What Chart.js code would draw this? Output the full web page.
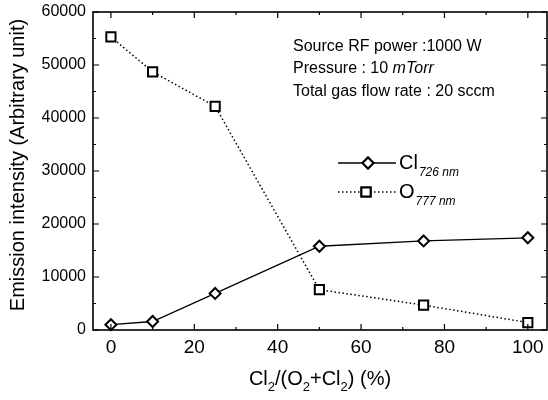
<!doctype html>
<html lang="en">
  <head>
    <meta charset="UTF-8">
    <title>Emission intensity vs Cl2 fraction</title>
    <style>
      body { margin: 0; background: #fff; }
    </style>
  </head>
  <body>
    <canvas id="myChart" width="548" height="400"></canvas>

    <script src="https://cdnjs.cloudflare.com/ajax/libs/Chart.js/4.4.1/chart.umd.min.js"></script>
    <script>
    // Data-----
    const cl2Percent = [0, 10, 25, 50, 75, 100];
    const cl726 = [1000, 1600, 6900, 15800, 16800, 17400];
    const o777 = [55300, 48700, 42200, 7600, 4700, 1400];
    const xTicks = [0, 20, 40, 60, 80, 100];
    const yTicks = [0, 10000, 20000, 30000, 40000, 50000, 60000];
    const notes = ['Source RF power :1000 W', 'Pressure : 10 ', 'Total gas flow rate : 20 sccm'];
    // Data-----

    const FONT = "'Liberation Sans', Arial, sans-serif";

    // no extra margins for overflowing tick labels, keep the plot box fixed
    const noMargins = s => { s.paddingLeft = 0; s.paddingRight = 0; s.paddingTop = 0; s.paddingBottom = 0; };

    // frame + inward ticks on all four sides, titles, legend and notes
    const decorPlugin = {
        id: 'decor',
        afterDraw(chart) {
            const ctx = chart.ctx;
            const a = chart.chartArea;
            const xs = chart.scales.x, ys = chart.scales.y;
            ctx.save();
            ctx.strokeStyle = '#000';
            ctx.lineWidth = 1.6;
            ctx.strokeRect(a.left, a.top, a.right - a.left, a.bottom - a.top);

            ctx.lineWidth = 1.2;
            ctx.beginPath();
            for (let v = 0; v <= 100; v += 10) {
                const px = xs.getPixelForValue(v);
                const len = v % 20 === 0 ? 6 : 3;
                ctx.moveTo(px, a.bottom); ctx.lineTo(px, a.bottom - len);
                ctx.moveTo(px, a.top); ctx.lineTo(px, a.top + len);
            }
            for (let v = 0; v <= 60000; v += 5000) {
                const py = ys.getPixelForValue(v);
                const len = v % 10000 === 0 ? 6 : 3;
                ctx.moveTo(a.left, py); ctx.lineTo(a.left + len, py);
                ctx.moveTo(a.right, py); ctx.lineTo(a.right - len, py);
            }
            ctx.stroke();

            ctx.fillStyle = '#000';

            // y title
            ctx.save();
            ctx.translate(18, 165);
            ctx.rotate(-Math.PI / 2);
            ctx.font = '20px ' + FONT;
            ctx.textAlign = 'center';
            ctx.textBaseline = 'middle';
            ctx.fillText('Emission intensity (Arbitrary unit)', 0, 0);
            ctx.restore();

            // x title with subscripts
            const parts = [['Cl', 0], ['2', 1], ['/(O', 0], ['2', 1], ['+Cl', 0], ['2', 1], [') (%)', 0]];
            const mainF = '20px ' + FONT, subF = '13px ' + FONT;
            let w = 0;
            parts.forEach(p => { ctx.font = p[1] ? subF : mainF; w += ctx.measureText(p[0]).width; });
            let x = (a.left + a.right) / 2 - w / 2;
            ctx.textAlign = 'left';
            ctx.textBaseline = 'alphabetic';
            parts.forEach(p => {
                ctx.font = p[1] ? subF : mainF;
                ctx.fillText(p[0], x, p[1] ? 391 : 385);
                x += ctx.measureText(p[0]).width;
            });

            // notes
            ctx.font = '16px ' + FONT;
            ctx.textBaseline = 'middle';
            ctx.fillText(notes[0], 293, 47);
            ctx.fillText(notes[1], 293, 69);
            const pw = ctx.measureText(notes[1]).width;
            ctx.font = 'italic 16px ' + FONT;
            ctx.fillText('mTorr', 293 + pw, 69);
            ctx.font = '16px ' + FONT;
            ctx.fillText(notes[2], 293, 92);

            // legend
            const entries = [
                {y: 163, dash: [], style: 'rectRot', r: 5.5, px: 368, main: 'Cl', sub: '726 nm'},
                {y: 192, dash: [1.5, 2.5], style: 'rect', r: 6.5, px: 366, main: 'O', sub: '777 nm'}
            ];
            entries.forEach(e => {
                ctx.setLineDash(e.dash);
                ctx.lineWidth = e.dash.length ? 1.5 : 1.3;
                ctx.beginPath();
                ctx.moveTo(338, e.y); ctx.lineTo(396, e.y);
                ctx.stroke();
                ctx.setLineDash([]);
                ctx.lineWidth = 2;
                ctx.fillStyle = '#fff';
                Chart.helpers.drawPoint(ctx, {pointStyle: e.style, radius: e.r, borderWidth: 2}, e.px, e.y);
                ctx.fill();
                ctx.stroke();
                ctx.fillStyle = '#000';
                ctx.font = '20px ' + FONT;
                ctx.textBaseline = 'middle';
                ctx.fillText(e.main, 399, e.y);
                const mw = ctx.measureText(e.main).width;
                ctx.font = 'italic 12px ' + FONT;
                ctx.fillText(e.sub, 399 + mw + 1, e.y + 10);
            });
            ctx.restore();
        }
    };

    const config = {
        type: 'line',
        data: {
            datasets: [{
                label: 'Cl 726 nm',
                data: cl2Percent.map((v, i) => ({x: v, y: cl726[i]})),
                borderColor: '#000',
                borderWidth: 1.3,
                pointStyle: 'rectRot',
                radius: 5.5,
                pointBorderWidth: 2,
                pointBackgroundColor: '#fff',
                pointBorderColor: '#000'
            },
            {
                label: 'O 777 nm',
                data: cl2Percent.map((v, i) => ({x: v, y: o777[i]})),
                borderColor: '#000',
                borderWidth: 1.5,
                borderDash: [1.5, 2.5],
                pointStyle: 'rect',
                radius: 6.5,
                pointBorderWidth: 2,
                pointBackgroundColor: '#fff',
                pointBorderColor: '#000'
            }]
        },
        options: {
            responsive: false,
            animation: false,
            clip: false,
            layout: { autoPadding: false, padding: { left: 0, right: 1, top: 12, bottom: 0 } },
            plugins: {
                legend: { display: false },
                tooltip: { enabled: false }
            },
            scales: {
                x: {
                    type: 'linear',
                    min: -4.3,
                    max: 104.6,
                    afterBuildTicks: s => { s.ticks = xTicks.map(v => ({value: v})); },
                    afterFit: s => { s.height = 70; noMargins(s); },
                    grid: { display: false, drawTicks: false },
                    border: { display: false },
                    ticks: { color: '#000', font: { family: FONT, size: 19 }, padding: 6, maxRotation: 0 }
                },
                y: {
                    type: 'linear',
                    min: 0,
                    max: 60000,
                    afterBuildTicks: s => { s.ticks = yTicks.map(v => ({value: v})); },
                    afterFit: s => { s.width = 93; noMargins(s); },
                    grid: { display: false, drawTicks: false },
                    border: { display: false },
                    ticks: { color: '#000', font: { family: FONT, size: 16 }, padding: 7, callback: v => String(v) }
                }
            }
        },
        plugins: [decorPlugin]
    };

    const myChart = new Chart(document.getElementById('myChart'), config);
    </script>
  </body>
</html>
